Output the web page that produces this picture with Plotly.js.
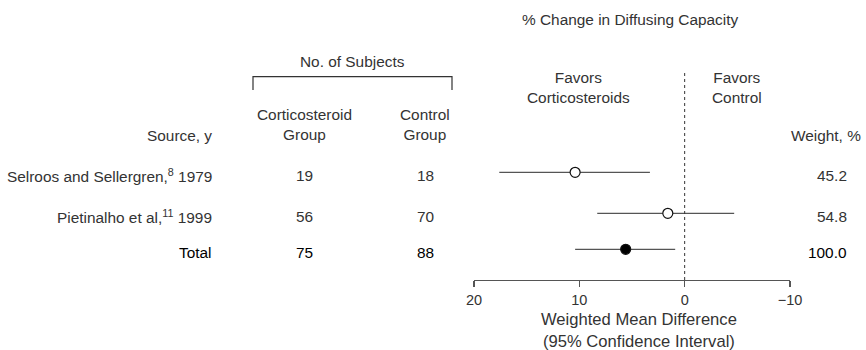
<!DOCTYPE html>
<html><head><meta charset="utf-8">
<script src="https://cdn.plot.ly/plotly-3.0.1.min.js"></script>
<style>html,body{margin:0;padding:0;background:#fff}</style>
</head><body><div id="chart" style="width:866px;height:350px"></div>
<script>
// ---- data ----
const sources = ["Selroos and Sellergren,<sup>8</sup> 1979", "Pietinalho et al,<sup>11</sup> 1999", "Total"];
const steroidN = [19, 56, 75];
const controlN = [18, 70, 88];
const weights = ["45.2", "54.8", "100.0"];
const meanDiff = [10.4, 1.6, 5.6];
const ciLow = [3.3, -4.7, 0.9];
const ciHigh = [17.6, 8.3, 10.4];
const xTicks = [20, 10, 0, -10];

// ---- layout helpers (positions, not data) ----
const W = 866, H = 350, PLOT_H = 280;
const rowPos = [1, 2, 2.878];
const px = p => p / W;              // pixel x -> paper x
const py = p => 1 - p / PLOT_H;     // pixel y -> paper y
const FONT = "Liberation Sans, Arial, Helvetica, sans-serif";
const TXT = "#333";
const FS = 15.4;

const isTotal = sources.map(s => s === "Total");

const trace = {
  type: "scatter", mode: "markers",
  x: meanDiff, y: rowPos,
  marker: {
    size: 10,
    color: isTotal.map(t => t ? "#000" : "#fff"),
    line: {color: "#111", width: 1.2}
  },
  error_x: {
    type: "data", symmetric: false,
    array: ciHigh.map((v, i) => v - meanDiff[i]),
    arrayminus: meanDiff.map((v, i) => v - ciLow[i]),
    width: 0, thickness: 1.3, color: "#555"
  },
  hoverinfo: "skip", showlegend: false
};

const ann = [];
function txt(text, x, y, opts) {
  ann.push(Object.assign({
    text: text, x: x, y: y, xref: "paper", yref: "paper",
    showarrow: false, xanchor: "center", yanchor: "middle",
    font: {family: FONT, size: FS, color: TXT}
  }, opts || {}));
}
// headers
txt("% Change in Diffusing Capacity", px(630), py(20));
txt("No. of Subjects", px(352), py(61));
txt("Favors<br>Corticosteroids", px(578), py(87.5));
txt("Favors<br>Control", px(737), py(87.5));
txt("Source, y", px(214), py(135), {xanchor: "right"});
txt("Corticosteroid<br>Group", px(304), py(125));
txt("Control<br>Group", px(425), py(125));
txt("Weight, %", px(863), py(135), {xanchor: "right"});
txt("Weighted Mean Difference<br>(95% Confidence Interval)", px(638.5), py(330), {font: {family: FONT, size: 16.6, color: TXT}});

// rows
sources.forEach((s, i) => {
  const f = {family: FONT, size: FS, color: isTotal[i] ? "#000" : TXT, weight: "normal"};
  const base = {yref: "y", y: rowPos[i], yshift: -3, font: f};
  txt(s, px(214), 0, Object.assign({}, base, {xanchor: "right"}));
  txt(String(steroidN[i]), px(304), 0, Object.assign({}, base));
  txt(String(controlN[i]), px(425), 0, Object.assign({}, base));
  txt(weights[i], px(849), 0, Object.assign({}, base, {xanchor: "right"}));
});

const shapes = [
  // zero reference line
  {type: "line", xref: "x", yref: "paper", x0: 0, x1: 0, y0: 0, y1: py(70),
   line: {color: "#333", width: 1, dash: "dot"}},
  // bracket over No. of Subjects
  {type: "path", xref: "paper", yref: "paper",
   path: `M ${px(253)} ${py(90)} L ${px(253)} ${py(76.7)} L ${px(452)} ${py(76.7)} L ${px(452)} ${py(90)}`,
   line: {color: "#333", width: 1.2}}
];

const layout = {
  width: W, height: H,
  margin: {l: 0, r: 0, t: 0, b: H - PLOT_H, pad: 0},
  paper_bgcolor: "#fff", plot_bgcolor: "#fff",
  font: {family: FONT, color: TXT},
  xaxis: {
    domain: [px(474), px(790)],
    range: [20, -10], autorange: false,
    tickvals: xTicks,
    ticktext: xTicks.map(v => String(v).replace("-", "\u2212")),
    ticks: "outside", ticklen: 6, tickwidth: 1.2, tickcolor: "#555",
    showline: true, linecolor: "#555", linewidth: 1.3,
    showgrid: false, zeroline: false, automargin: false,
    tickfont: {family: FONT, size: 14.5, color: TXT}
  },
  yaxis: {
    range: [3.627, -3.202], autorange: false,
    visible: false, showgrid: false, zeroline: false, fixedrange: true
  },
  annotations: ann,
  shapes: shapes
};

Plotly.newPlot("chart", [trace], layout, {staticPlot: true, displayModeBar: false});
</script></body></html>
